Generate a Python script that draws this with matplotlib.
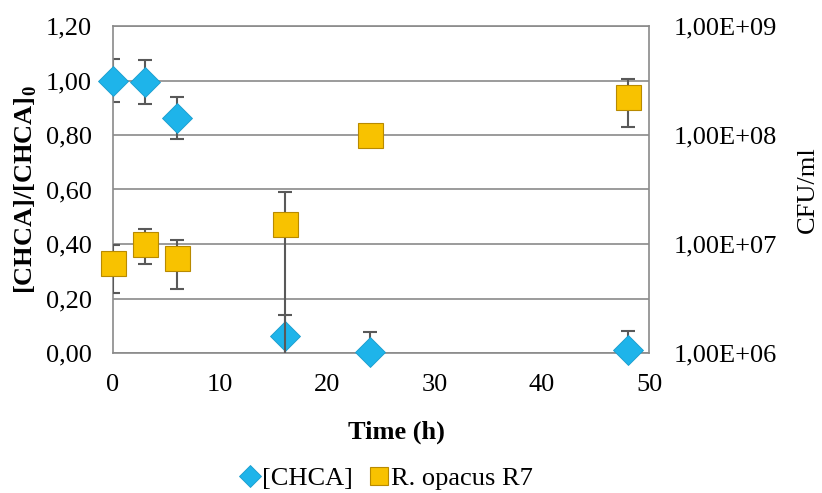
import numpy as np
import matplotlib
matplotlib.use('Agg')
from matplotlib import pyplot as plt
from matplotlib.lines import Line2D

# данные
time_h = [0, 3, 6, 16, 24, 48]
chca = [1.00, 0.995, 0.862, 0.063, 0.002, 0.01]
chca_err = [0.08, 0.08, 0.078, 0.075, 0.075, 0.072]
cfu = [6.65e6, 1.01e7, 7.4e6, 1.52e7, 1.0e8, 2.24e8]
cfu_err = [3.1e6, 3.5e6, 3.5e6, 1.45e7, 1.5e7, 1.05e8]

plt.rcParams['font.family'] = ['Liberation Serif', 'DejaVu Serif']
plt.rcParams['mathtext.fontset'] = 'custom'
plt.rcParams['mathtext.rm'] = 'Liberation Serif'
plt.rcParams['mathtext.bf'] = 'Liberation Serif:bold'

FS = 19
GREY = '#8a8a8a'
ERR = '#595959'
BLUE = '#1eb4ea'
BLUE_E = '#1a9ccc'
GOLD = '#f8c200'
GOLD_E = '#b88a00'


def main():
    fig = plt.figure(figsize=(8.22, 4.93), dpi=100)
    ax = fig.add_axes([113 / 822, 1 - 353 / 493, (649 - 113) / 822, (353 - 26) / 493])
    ax2 = ax.twinx()

    # левая ось: [CHCA]
    ax.set_xlim(0, 50)
    ax.set_ylim(0, 1.2)
    yt = np.arange(0, 1.21, 0.2)
    ax.set_yticks(yt)
    ax.set_yticklabels([('%.2f' % v).replace('.', ',') for v in yt])
    ax.set_xticks([0, 10, 20, 30, 40, 50])
    ax.yaxis.grid(True, color=GREY, linewidth=1.2)
    ax.set_axisbelow(True)
    for s in ax.spines.values():
        s.set_color(GREY)
        s.set_linewidth(1.2)
    ax.tick_params(length=0, labelsize=FS)
    ax.tick_params(axis='y', pad=15)
    ax.tick_params(axis='x', pad=15)

    ax.errorbar(time_h, chca, yerr=chca_err, fmt='none', ecolor=ERR,
                elinewidth=1.5, capsize=5, capthick=1.5, zorder=2)
    ax.plot(time_h, chca, 'D', ms=15.5, mfc=BLUE, mec=BLUE_E, mew=0.6,
            clip_on=False, zorder=3)

    # правая ось: CFU/ml (лог)
    ax2.set_yscale('log')
    ax2.set_ylim(1e6, 1e9)
    ax2.set_yticks([1e6, 1e7, 1e8, 1e9])
    ax2.set_yticklabels(['1,00E+06', '1,00E+07', '1,00E+08', '1,00E+09'])
    ax2.minorticks_off()
    ax2.tick_params(length=0, labelsize=FS, pad=18)
    for s in ax2.spines.values():
        s.set_visible(False)

    ax2.errorbar(time_h, cfu, yerr=cfu_err, fmt='none', ecolor=ERR,
                 elinewidth=1.5, capsize=5, capthick=1.5, zorder=2)
    ax2.plot(time_h, cfu, 's', ms=18, mfc=GOLD, mec=GOLD_E, mew=0.8,
             clip_on=False, zorder=3)

    # подписи осей
    fig.text(26 / 822, 1 - 190 / 493, r'[CHCA]/[CHCA]$_\mathbf{0}$', rotation=90,
             ha='center', va='center', fontsize=FS, fontweight='bold')
    fig.text(808 / 822, 1 - 190 / 493, 'CFU/ml', rotation=90,
             ha='center', va='center', fontsize=FS)
    fig.text(396 / 822, 1 - 432 / 493, 'Time (h)', ha='center', va='center',
             fontsize=FS, fontweight='bold')

    # легенда
    handles = [
        Line2D([], [], ls='none', marker='D', ms=11, mfc=BLUE, mec=BLUE_E, mew=0.6),
        Line2D([], [], ls='none', marker='s', ms=13, mfc=GOLD, mec=GOLD_E, mew=0.8),
    ]
    fig.legend(handles, ['[CHCA]', 'R. opacus R7'], loc='center',
               bbox_to_anchor=(386 / 822, 1 - 478 / 493), ncol=2, frameon=False,
               fontsize=FS, handlelength=0.8, handletextpad=0.05, columnspacing=0.6)

    fig.savefig('out.png', dpi=100)


if __name__ == '__main__':
    main()
